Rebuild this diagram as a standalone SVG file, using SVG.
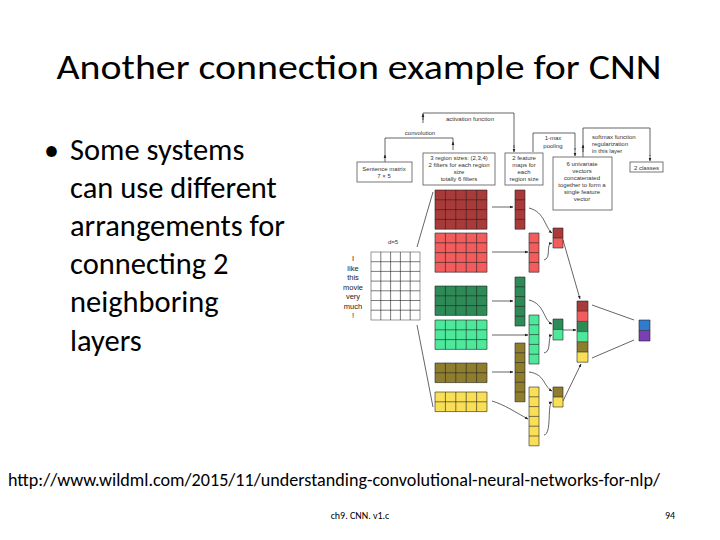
<svg xmlns="http://www.w3.org/2000/svg" width="720" height="540" viewBox="0 0 720 540">
<defs>
<marker id="ah" viewBox="0 0 10 10" refX="9" refY="5" markerWidth="5" markerHeight="5" orient="auto"><path d="M0,1L10,5L0,9z" fill="#222"/></marker>
<style>
.t{font-family:Calibri,Carlito,"Liberation Sans",sans-serif;fill:#000}
.s{font-family:"Liberation Sans",Arial,sans-serif;font-size:6px;fill:#333;text-anchor:middle}
.l{text-anchor:start}
.w{font-family:"Liberation Sans",Arial,sans-serif;font-size:7.5px;fill:#222;text-anchor:middle}
.box{fill:#fff;stroke:#555;stroke-width:0.8}
.g{stroke:#222;stroke-width:0.6;fill:none}
.c{stroke:#222;stroke-width:0.7;fill:none}
.ca{stroke:#222;stroke-width:0.7;fill:none;marker-end:url(#ah)}
</style>
</defs>
<rect width="720" height="540" fill="#fff"/>
<text class="t" x="359" y="79" font-size="34" text-anchor="middle" textLength="605" lengthAdjust="spacingAndGlyphs">Another connection example for CNN</text>
<g id="bullet">
<text class="t" x="44" y="160" font-size="30">•</text>
<text class="t" font-size="30.5"><tspan x="70" y="160">Some systems</tspan><tspan x="70" y="198">can use different</tspan><tspan x="70" y="236">arrangements for</tspan><tspan x="70" y="274">connecting 2</tspan><tspan x="70" y="312">neighboring</tspan><tspan x="70" y="351">layers</tspan></text>
</g>
<text class="t" x="8" y="486" font-size="17.5" textLength="652" lengthAdjust="spacingAndGlyphs">http://www.wildml.com/2015/11/understanding-convolutional-neural-networks-for-nlp/</text>
<text class="t" x="360" y="519" font-size="10" text-anchor="middle" fill="#555">ch9. CNN. v1.c</text>
<text class="t" x="670" y="519" font-size="10" text-anchor="middle" fill="#555">94</text>

<g id="connectors">
<path class="c" d="M385,162V138H453V150"/><path class="ca" d="M453,145V142"/><path class="ca" d="M385,158V155"/>
<path class="c" d="M423,123V113H514V148"/><path class="ca" d="M514,145V152"/><path class="ca" d="M423,120V114"/>
<path class="c" d="M533,152V133H575V150"/><path class="ca" d="M575,148V156"/>
<path class="c" d="M583,157V128H650V156"/><path class="ca" d="M650,155V161"/><path class="ca" d="M583,152V145"/>
<path class="c" d="M417,247L433,192M417,325L433,407"/>
<path class="ca" d="M492,207H513"/><path class="ca" d="M492,252H528"/><path class="ca" d="M492,301H513"/><path class="ca" d="M492,335H528"/><path class="ca" d="M492,372H513"/><path class="ca" d="M492,401C505,405 515,412 528,419"/>
<path class="ca" d="M529,208C545,212 545,228 552,233"/><path class="ca" d="M544,260C552,258 545,244 552,243"/>
<path class="ca" d="M529,300C545,304 543,320 552,324"/><path class="ca" d="M544,353C552,352 547,336 552,335"/><path class="ca" d="M563,330H576"/>
<path class="ca" d="M529,372C545,374 543,386 552,391"/><path class="ca" d="M544,435C552,434 547,404 552,402"/>
<path class="ca" d="M563,240L580,299"/><path class="ca" d="M563,401L581,364"/>
<path class="c" d="M592,305L634,320M592,358L634,340"/>
</g>

<g id="labels">
<text class="s" x="420" y="135">convolution</text>
<text class="s" x="470" y="121">activation function</text>
<text class="s" x="553" y="140">1-max</text><text class="s" x="553" y="148">pooling</text>
<text class="s l" x="592" y="139">softmax function</text><text class="s l" x="592" y="146">regularization</text><text class="s l" x="592" y="153">in this layer</text>
</g>
<g id="sentence-box"><rect class="box" x="357" y="162" width="55" height="20"/><text class="s" x="384" y="171">Sentence matrix</text><text class="s" x="384" y="178">7 × 5</text></g>
<g id="region-box"><rect class="box" x="423" y="153" width="72" height="32"/><text class="s" x="459" y="160">3 region sizes: (2,3,4)</text><text class="s" x="459" y="167">2 filters for each region</text><text class="s" x="459" y="174">size</text><text class="s" x="459" y="181">totally 6 filters</text></g>
<g id="feature-box"><rect class="box" x="505" y="153" width="38" height="32"/><text class="s" x="524" y="160">2 feature</text><text class="s" x="524" y="167">maps for</text><text class="s" x="524" y="174">each</text><text class="s" x="524" y="181">region size</text></g>
<g id="univariate-box"><rect class="box" x="553" y="157" width="59" height="53"/><text class="s" x="582" y="166">6 univariate</text><text class="s" x="582" y="173">vectors</text><text class="s" x="582" y="180">concatenated</text><text class="s" x="582" y="187">together to form a</text><text class="s" x="582" y="194">single feature</text><text class="s" x="582" y="201">vector</text></g>
<g id="classes-box"><rect class="box" x="630" y="162" width="33" height="10"/><text class="s" x="646.5" y="169.5">2 classes</text></g>

<g id="sentence">
<text class="s" x="393" y="244">d=5</text>
<text class="w"><tspan x="353" y="261">I</tspan><tspan x="353" y="270.5">like</tspan><tspan x="353" y="280">this</tspan><tspan x="353" y="289.5">movie</tspan><tspan x="353" y="299">very</tspan><tspan x="353" y="308.5">much</tspan><tspan x="353" y="318">!</tspan></text>
<rect x="371" y="252" width="49" height="68" fill="#fff" stroke="#555" stroke-width="0.6"/>
<path class="g" stroke="#555" d="M380.8,252V320M390.6,252V320M400.4,252V320M410.2,252V320M371,261.7H420M371,271.4H420M371,281.1H420M371,290.8H420M371,300.5H420M371,310.2H420"/>
</g>

<g id="filters">
<rect x="435" y="190" width="52" height="39.2" fill="#a83a3a"/><path class="g" d="M435,190h52v39.2h-52zM445.4,190V229.2M455.8,190V229.2M466.2,190V229.2M476.6,190V229.2M435,199.8H487M435,209.6H487M435,219.4H487"/>
<rect x="435" y="233" width="52" height="39.2" fill="#f25c5c"/><path class="g" d="M435,233h52v39.2h-52zM445.4,233V272.2M455.8,233V272.2M466.2,233V272.2M476.6,233V272.2M435,242.8H487M435,252.6H487M435,262.4H487"/>
<rect x="435" y="286" width="52" height="29.4" fill="#2e8b57"/><path class="g" d="M435,286h52v29.4h-52zM445.4,286V315.4M455.8,286V315.4M466.2,286V315.4M476.6,286V315.4M435,295.8H487M435,305.6H487"/>
<rect x="435" y="320" width="52" height="29.4" fill="#4de89a"/><path class="g" d="M435,320h52v29.4h-52zM445.4,320V349.4M455.8,320V349.4M466.2,320V349.4M476.6,320V349.4M435,329.8H487M435,339.6H487"/>
<rect x="435" y="363" width="52" height="19.6" fill="#8f7d2e"/><path class="g" d="M435,363h52v19.6h-52zM445.4,363V382.6M455.8,363V382.6M466.2,363V382.6M476.6,363V382.6M435,372.8H487"/>
<rect x="435" y="392" width="52" height="19.6" fill="#f9df55"/><path class="g" d="M435,392h52v19.6h-52zM445.4,392V411.6M455.8,392V411.6M466.2,392V411.6M476.6,392V411.6M435,401.8H487"/>
</g>

<g id="maps">
<rect x="515" y="190" width="10" height="39.2" fill="#a83a3a"/><path class="g" d="M515,190h10v39.2h-10zM515,199.8h10M515,209.6h10M515,219.4h10"/>
<rect x="529" y="233" width="10" height="39.2" fill="#f25c5c"/><path class="g" d="M529,233h10v39.2h-10zM529,242.8h10M529,252.6h10M529,262.4h10"/>
<rect x="515" y="277" width="10" height="49" fill="#2e8b57"/><path class="g" d="M515,277h10v49h-10zM515,286.8h10M515,296.6h10M515,306.4h10M515,316.2h10"/>
<rect x="529" y="315" width="10" height="49" fill="#4de89a"/><path class="g" d="M529,315h10v49h-10zM529,324.8h10M529,334.6h10M529,344.4h10M529,354.2h10"/>
<rect x="515" y="343" width="10" height="58.8" fill="#8f7d2e"/><path class="g" d="M515,343h10v58.8h-10zM515,352.8h10M515,362.6h10M515,372.4h10M515,382.2h10M515,392h10"/>
<rect x="529" y="387" width="10" height="58.8" fill="#f9df55"/><path class="g" d="M529,387h10v58.8h-10zM529,396.8h10M529,406.6h10M529,416.4h10M529,426.2h10M529,436h10"/>
</g>

<g id="pooled">
<rect x="553" y="228" width="10" height="10" fill="#a83a3a"/><rect x="553" y="238" width="10" height="10" fill="#f25c5c"/><path class="g" d="M553,228h10v20h-10zM553,238h10"/>
<rect x="553" y="319" width="10" height="10.5" fill="#2e8b57"/><rect x="553" y="329.5" width="10" height="10.5" fill="#4de89a"/><path class="g" d="M553,319h10v21h-10zM553,329.5h10"/>
<rect x="553" y="387" width="10" height="10" fill="#8f7d2e"/><rect x="553" y="397" width="10" height="10" fill="#f9df55"/><path class="g" d="M553,387h10v20h-10zM553,397h10"/>
</g>

<g id="concat">
<rect x="577" y="301" width="11" height="10.2" fill="#a83a3a"/><rect x="577" y="311.2" width="11" height="10.2" fill="#f25c5c"/><rect x="577" y="321.4" width="11" height="10.2" fill="#2e8b57"/><rect x="577" y="331.6" width="11" height="10.2" fill="#4de89a"/><rect x="577" y="341.8" width="11" height="10.2" fill="#8f7d2e"/><rect x="577" y="352" width="11" height="10.2" fill="#f9df55"/>
<path class="g" d="M577,301h11v61.2h-11zM577,311.2h11M577,321.4h11M577,331.6h11M577,341.8h11M577,352h11"/>
</g>
<g id="output">
<rect x="639" y="320" width="11" height="10.5" fill="#2f7bd0"/><rect x="639" y="330.5" width="11" height="10.5" fill="#7a3fb5"/><path class="g" d="M639,320h11v21h-11zM639,330.5h11"/>
</g>
</svg>
